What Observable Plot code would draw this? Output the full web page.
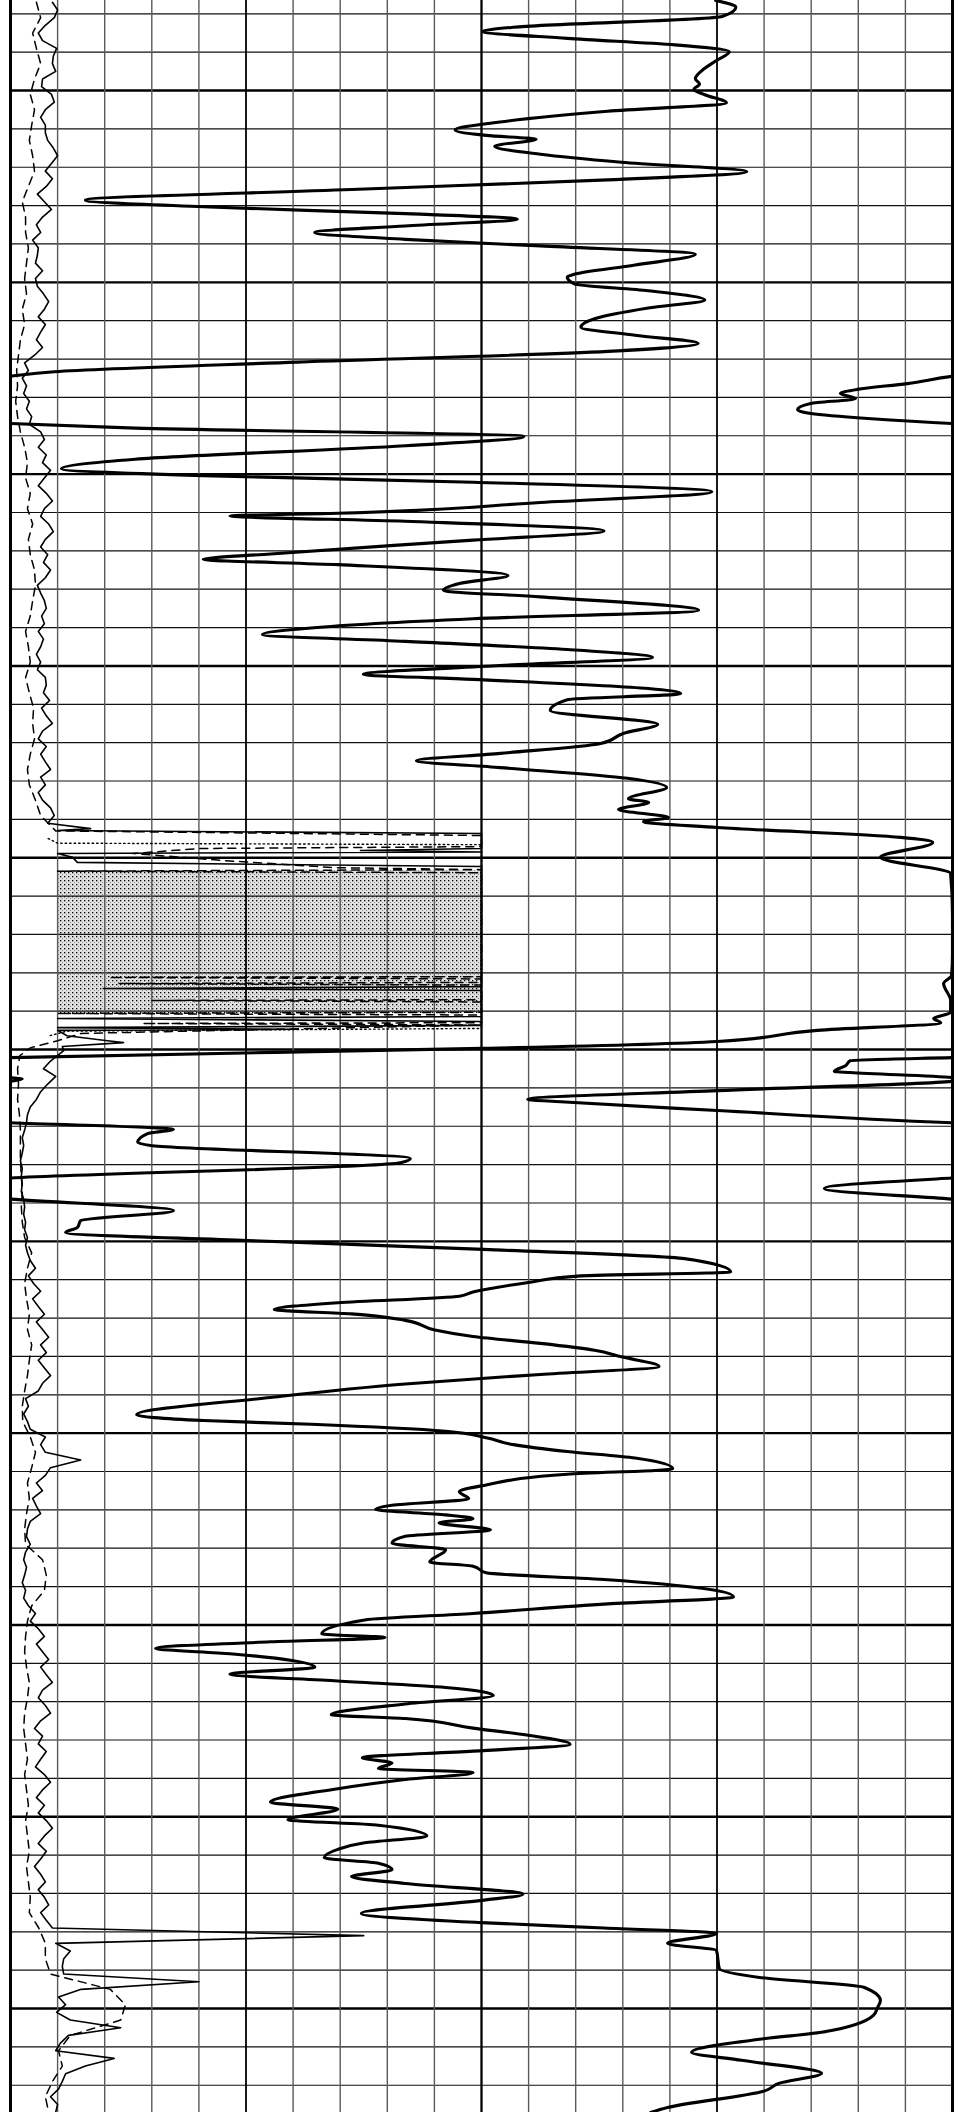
<!DOCTYPE html>
<html><head><meta charset="utf-8">
<script src="https://cdn.jsdelivr.net/npm/d3@7"></script>
<script src="https://cdn.jsdelivr.net/npm/@observablehq/plot@0.6"></script>
<style>html,body{margin:0;padding:0;background:#fff;} #chart svg{display:block;}</style>
</head><body><div id="chart"></div>
<script>
// ---- depth window (m) and track scale (0..20, 20 divisions) ----
const depthTop = 1002.653, depthBottom = 1057.71;
const trackMin = 0, trackMax = 20;

// grid
const vGridMinor = [1,2,3,4,6,7,8,9,11,12,13,14,16,17,18,19];
const vGridMajor = [5,15];
const vGridCenter = [10];
const vGridBorder = [0,20];
const hGridMinor = d3.range(1003, 1058).filter(d => d % 5 !== 0);
const hGridMajor = [1005,1010,1015,1020,1025,1030,1035,1040,1045,1050,1055];

// ---- thick curve (deep reading, wraps around the track) ----
const resDepth = [
1002.65,1002.83,1003.07,1003.35,1003.46,1003.64,1003.81,1003.99,1004.23,1004.48,
1004.69,1004.83,1004.97,1005.11,1005.32,1005.54,1005.82,1006.03,1006.17,1006.27,
1006.45,1006.66,1006.87,1007.12,1007.33,1007.58,1007.86,1008.03,1008.21,1008.35,
1008.53,1008.70,1008.88,1009.05,1009.27,1009.55,1009.79,1009.86,1010.04,1010.22,
1010.46,1010.67,1010.95,1011.17,1011.38,1011.59,1011.80,1012.08,1012.33,1012.45,
1012.64,1012.79,1012.90,1013.03,1013.16,1013.32,1013.42,1013.55,1013.68,1013.80,
1014.02,1014.26,1014.61,1014.86,1015.04,1015.21,1015.46,1015.74,1016.02,1016.09,
1016.23,1016.48,1016.72,1017.08,1017.22,1017.36,1017.64,1017.85,1018.03,1018.20,
1018.55,1018.77,1019.01,1019.18,1019.36,1019.57,1019.78,1019.99,1020.22,1020.35,
1020.59,1020.72,1020.88,1021.16,1021.52,1021.76,1022.02,1022.28,1022.47,1022.65,
1022.93,1023.17,1023.46,1023.56,1023.74,1023.95,1024.06,1024.21,1024.47,1024.60,
1024.99,1025.41,1026.50,1027.50,1028.07,1028.28,1028.72,1029.03,1029.19,1029.30,
1029.50,1029.79,1029.95,1029.97,1030.21,1030.29,1030.42,1030.57,1030.60,1030.73,
1030.77,1030.83,1031.07,1031.30,1031.36,1031.59,1031.91,1032.06,1032.08,1032.19,
1032.42,1032.50,1032.84,1032.95,1033.35,1033.62,1033.90,1034.20,1034.46,1034.64,
1034.77,1034.98,1035.21,1035.45,1035.80,1035.90,1036.08,1036.32,1036.43,1036.60,
1036.78,1036.89,1037.06,1037.31,1037.48,1037.66,1037.84,1038.01,1038.26,1038.47,
1038.72,1039.07,1039.52,1039.67,1039.77,1039.95,1040.12,1040.30,1040.48,1040.65,
1040.93,1041.07,1041.35,1041.53,1041.71,1041.88,1041.99,1042.13,1042.23,1042.34,
1042.52,1042.69,1042.87,1043.04,1043.36,1043.47,1043.64,1043.82,1044.27,1044.45,
1044.70,1044.87,1045.23,1045.33,1045.44,1045.61,1045.75,1046.10,1046.28,1046.46,
1046.63,1046.84,1047.06,1047.34,1047.44,1047.69,1047.87,1048.11,1048.29,1048.46,
1048.60,1048.74,1048.85,1049.03,1049.27,1049.62,1049.80,1050.08,1050.22,1050.50,
1050.68,1050.85,1051.07,1051.21,1051.38,1051.56,1051.74,1052.02,1052.18,1052.52,
1052.76,1052.90,1053.04,1053.30,1053.49,1053.96,1054.19,1054.45,1054.79,1054.97,
1055.18,1055.62,1055.78,1056.14,1056.35,1056.69,1056.95,1057.14,1057.58,1057.71];
const resValue = [
14.97,15.40,15.11,10.68,10.02,11.82,14.11,15.26,14.97,14.68,
14.54,14.63,14.51,14.74,15.20,12.68,10.39,9.44,10.10,11.16,
10.28,11.25,12.97,15.63,12.68,7.24,1.59,4.09,8.38,10.76,
8.38,6.46,8.38,11.25,14.54,13.26,11.97,11.82,11.97,13.54,
14.74,13.54,12.40,12.11,13.26,14.60,12.68,6.09,0.93,0,
-0.96,-2.02,-2.38,-2.06,-3.01,-3.29,-3.01,-1.80,0,2.65,
10.90,8.38,2.65,1.08,4.09,9.82,14.89,11.25,6.95,4.66,
8.38,12.60,9.82,5.52,4.09,6.95,10.56,9.53,9.19,11.25,
14.61,9.82,6.38,5.35,8.38,11.82,13.63,10.39,7.49,9.82,
13.54,14.23,11.82,11.46,13.74,13.01,12.53,10.40,8.62,10.40,
13.10,13.93,13.12,13.55,12.91,13.97,13.44,15.01,18.90,19.58,
18.47,19.96,20.00,20.00,19.98,19.81,19.96,19.96,19.60,19.75,
17.13,15.01,10.76,10.02,0,-2.17,-2.27,-2.51,-2.17,-0.02,
0.25,-0.02,-4.99,-9.02,-8.32,-4.99,0,3.33,3.46,2.91,
2.70,2.97,8.49,8.28,0,-2.72,0,3.46,1.49,1.42,
1.17,5.03,10.04,14.31,15.29,12.11,10.96,9.82,9.53,6.95,
5.60,7.24,8.38,9.01,9.82,11.25,12.40,12.97,13.77,11.25,
8.38,5.52,2.68,4.09,6.38,9.24,10.10,10.68,11.82,13.26,
14.06,11.82,10.10,9.53,9.73,8.10,7.75,9.24,9.82,9.10,
10.19,8.38,8.10,9.24,8.90,9.82,10.10,12.68,15.35,12.68,
9.82,7.52,6.61,7.95,5.52,3.08,4.66,6.46,4.66,6.95,
9.24,10.25,8.38,6.81,8.38,9.82,10.96,11.88,9.82,7.47,
8.10,7.81,9.82,8.38,6.95,5.52,6.95,5.89,7.81,8.84,
7.52,6.95,6.66,7.81,8.10,7.24,8.38,10.88,10.00,7.45,
10.00,12.60,14.99,13.95,14.99,15.05,15.90,18.13,18.47,18.41,
18.32,17.22,16.03,14.46,15.52,17.22,16.31,16.03,13.95,13.59];

// ---- thin solid curve: regular 0.2 m samples, plus an off-scale zone ----
const thinStep = 0.2;
const thinTopStart = 1002.7;
const thinTopValue = [
0.89,1.00,0.93,0.74,0.59,0.68,0.98,0.91,0.89,0.96,
0.68,0.66,0.87,0.93,0.74,0.64,0.74,0.74,0.79,0.91,
1.00,0.87,0.74,0.89,0.76,0.57,0.72,0.87,0.68,0.55,
0.64,0.47,0.59,0.57,0.53,0.68,0.53,0.57,0.70,0.81,
0.72,0.59,0.74,0.64,0.55,0.68,0.51,0.30,0.38,0.25,
0.34,0.28,0.40,0.34,0.45,0.40,0.64,0.72,0.59,0.76,
0.68,0.85,0.72,0.59,0.76,0.89,0.72,0.64,0.81,0.91,
0.74,0.64,0.79,0.70,0.85,0.74,0.57,0.64,0.72,0.76,
0.66,0.72,0.59,0.70,0.64,0.55,0.64,0.57,0.74,0.76,
0.70,0.83,0.66,0.76,0.89,0.68,0.59,0.76,0.64,0.74,
0.85,0.64,0.74,0.59,0.68,0.85,0.93,0.79];
const thinZoneDepth = [1024.24,1024.29,1024.37,1024.76,1024.81,1024.85,1024.89,1024.99,1025.12,1025.23,
1028.36,1028.41,1028.46,1029.14,1029.19,1029.27,1029.37,1029.43,1029.47,1029.50,
1029.64,1029.77,1029.82,1029.92,1030.03];
const thinZoneValue = [1.70,1.00,10,10,7.43,10,1.00,1.32,1.42,10,
10,1.97,10,10,1.00,10,10,1.00,6.10,1.00,
1.20,2.06,2.40,1.10,1.13];
const thinLowStart = 1030.3;
const thinLowValue = [
0.85,0.70,0.96,0.79,0.64,0.55,0.42,0.36,0.34,0.30,0.25,0.28,0.25,0.21,0.25,0.23,0.25,0.23,0.28,0.30,0.28,0.32,0.30,0.36,0.32,0.36,
0.42,0.53,0.38,0.49,0.64,0.47,0.59,0.72,0.55,0.68,0.81,0.64,0.76,0.59,0.72,0.85,0.68,0.59,
0.32,0.38,0.28,0.36,0.42,0.74,0.64,0.74,1.49,0.85,0.74,0.55,0.68,0.47,0.55,0.64,0.42,0.36,0.34,0.42,0.32,0.28,0.34,0.30,0.25,0.32,0.28,
0.38,0.53,0.42,0.59,0.72,0.55,0.68,0.81,0.64,0.76,0.89,0.68,0.59,0.74,0.85,0.64,0.51,0.68,0.59,0.76,
0.64,0.53,0.72,0.85,0.68,0.55,0.72,0.59,0.76,0.89,0.72,0.59,0.76,0.64,0.51,0.64,0.74,0.59,0.72,0.81,0.64,0.76,0.89,
7.5,0.96,1.27,1.13,1.10,1.13,4.0,1.5,1.02,1.17,0.98,1.27,2.34,1.23,1.06,0.96,2.2,1.59,1.17,1.10,1.02,0.85,1.00,0.96];

// ---- dashed curve: regular 0.4 m samples, plus off-scale zone ----
const dashStep = 0.4;
const dashTopStart = 1002.7;
const dashTopValue = [
0.55,0.64,0.47,0.55,0.64,0.51,0.42,0.51,0.45,0.40,
0.47,0.51,0.38,0.25,0.32,0.32,0.38,0.34,0.30,0.34,
0.25,0.30,0.21,0.17,0.13,0.15,0.11,0.15,0.21,0.30,
0.36,0.32,0.42,0.36,0.47,0.38,0.42,0.51,0.53,0.47,
0.42,0.32,0.38,0.42,0.32,0.40,0.49,0.47,0.51,0.42,
0.36,0.40,0.53,0.64,0.96];
const dashZoneDepth = [1024.42,1024.71,1024.76,1024.89,1025.07,1025.26,1025.31,1025.35,1025.39,1028.10,
1028.12,1028.16,1028.25,1028.28,1028.32,1028.70,1028.72,1028.76,1029.03,1029.06,
1029.10,1029.30,1029.32,1029.36,1029.58,1029.77,1029.95,1030.16];
const dashZoneValue = [10,10,4.0,2.6,4.5,6.9,10,1.0,10,10,
2.1,10,10,2.3,10,10,3.0,10,10,1.0,
10,10,2.8,10,1.5,1.0,0.43,0.20];
const dashLowStart = 1030.5;
const dashLowValue = [
0.15,0.17,0.15,0.19,0.21,0.21,0.21,0.23,0.25,0.23,
0.25,0.30,0.45,0.36,0.30,0.34,0.40,0.36,0.45,0.40,
0.36,0.30,0.25,0.26,0.42,0.53,0.45,0.36,0.40,0.34,
0.30,0.32,0.68,0.76,0.72,0.45,0.36,0.32,0.30,0.34,
0.40,0.36,0.30,0.28,0.32,0.36,0.30,0.34,0.38,0.32,
0.36,0.40,0.34,0.38,0.42,0.40,0.60,0.74,0.74,0.85,
2.12,2.44,2.34,1.27,1.02,1.10,0.89,0.74,0.81];

// ---- dotted curve (only visible in the off-scale zone) ----
const dotDepth = [1024.50,1024.62,1024.66,1029.45,1029.52,1029.65];
const dotValue = [0.8,1.0,10,10,1.2,0.8];

// ---- stippled (shaded) interval ----
const shadeDepth = [1025.33, 1029.06];
const shadeFrom = 1, shadeTo = 10;

// ---- build tables ----
const res = resDepth.map((d, i) => ({d, v: resValue[i]}));
const regular = (start, step, vals) => vals.map((v, i) => ({d: +(start + i * step).toFixed(3), v}));
const pairs = (ds, vs) => ds.map((d, i) => ({d, v: vs[i]}));
const thin = [...regular(thinTopStart, thinStep, thinTopValue), ...pairs(thinZoneDepth, thinZoneValue), ...regular(thinLowStart, thinStep, thinLowValue)];
const dashed = [...regular(dashTopStart, dashStep, dashTopValue), ...pairs(dashZoneDepth, dashZoneValue), ...regular(dashLowStart, dashStep, dashLowValue)];
const dotted = pairs(dotDepth, dotValue);
const shade = shadeDepth.map(d => ({d, lo: shadeFrom, hi: shadeTo}));

const chart = Plot.plot({
  width: 968, height: 2112,
  marginLeft: 10, marginRight: 16, marginTop: 0, marginBottom: 0,
  x: {domain: [trackMin, trackMax], range: [10, 952], axis: null},
  y: {domain: [depthTop, depthBottom], range: [0, 2112], axis: null},
  style: {background: "#fff"},
  marks: [
    Plot.areaX(shade, {y: "d", x1: "lo", x2: "hi", fill: "url(#stipple)"}),
    Plot.ruleY(hGridMinor, {stroke: "#111", strokeWidth: 1.2}),
    Plot.ruleY(hGridMajor, {stroke: "#000", strokeWidth: 2.4}),
    Plot.ruleX(vGridMinor, {stroke: "#5a5a5a", strokeWidth: 1.4}),
    Plot.ruleX(vGridMajor, {stroke: "#000", strokeWidth: 1.8}),
    Plot.ruleX(vGridCenter, {stroke: "#000", strokeWidth: 2.3}),
    Plot.line(dotted, {x: "v", y: "d", stroke: "#000", strokeWidth: 1.4, strokeDasharray: "1.5,3"}),
    Plot.line(dashed, {x: "v", y: "d", stroke: "#000", strokeWidth: 1.5, strokeDasharray: "8,6"}),
    Plot.line(thin, {x: "v", y: "d", stroke: "#000", strokeWidth: 1.6, strokeLinejoin: "round"}),
    Plot.line(res, {x: "v", y: "d", curve: "monotone-y", stroke: "#000", strokeWidth: 3.1, clip: true}),
    Plot.line(res, {x: d => d.v + (trackMax - trackMin), y: "d", curve: "monotone-y", stroke: "#000", strokeWidth: 3.1, clip: true}),
    Plot.ruleX(vGridBorder, {stroke: "#000", strokeWidth: 3})
  ]
});
d3.select(chart).insert("defs", ":first-child").html(
  '<pattern id="stipple" width="4" height="4" patternUnits="userSpaceOnUse">' +
  '<rect width="4" height="4" fill="#e0e0e0"/>' +
  '<rect x="0" y="0" width="1.3" height="1.3" fill="#000"/>' +
  '<rect x="2" y="2" width="1" height="1" fill="#8a8a8a"/></pattern>');
document.getElementById("chart").appendChild(chart);
</script>
</body></html>
